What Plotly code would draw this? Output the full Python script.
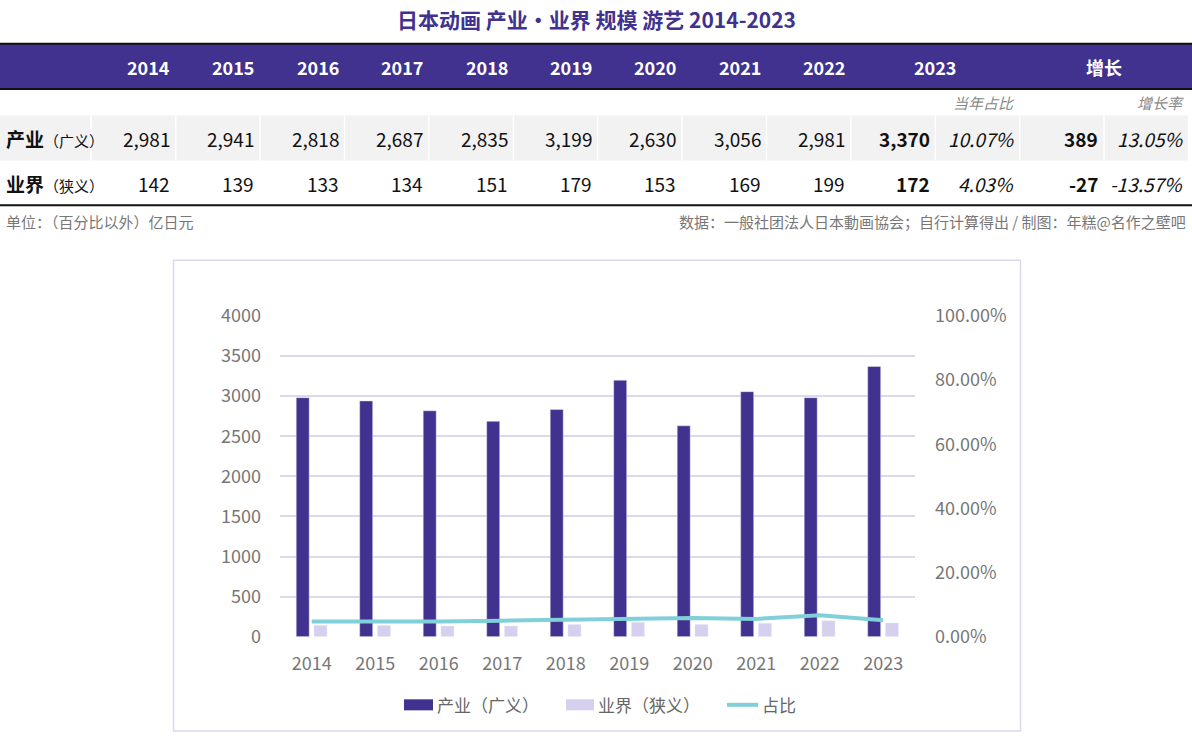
import plotly.graph_objects as go

# data
years = ["2014", "2015", "2016", "2017", "2018", "2019", "2020", "2021", "2022", "2023"]
industry = [2981, 2941, 2818, 2687, 2835, 3199, 2630, 3056, 2981, 3370]   # 产业（广义）
market = [142, 139, 133, 134, 151, 179, 153, 169, 199, 172]               # 业界（狭义）
share_pct = [4.76, 4.73, 4.72, 4.99, 5.33, 5.60, 5.82, 5.53, 6.68, 5.10]  # 占比
share_2023 = ["10.07%", "4.03%"]
growth = ["389", "-27"]
growth_rate = ["13.05%", "-13.57%"]
row_names = [("产业", "（广义）"), ("业界", "（狭义）")]

W, H = 1192, 746
PURPLE = "#40328e"
LAV = "#d6d0ee"
TEAL = "#80cfd9"
GRID = "#dcd8ee"
FONT = "Noto Sans CJK SC"


def px(x):
    return x / W


def py(y):
    # the page comes out shifted/squeezed a bit vertically, compensate
    y = (y - 15.7) / 0.963
    return 1 - y / H


fig = go.Figure()

fig.add_trace(go.Bar(x=years, y=industry, name="产业（广义）", marker_color=PURPLE,
                     width=0.205, offset=-0.245, showlegend=False))
fig.add_trace(go.Bar(x=years, y=market, name="业界（狭义）", marker_color=LAV,
                     width=0.205, offset=0.035, showlegend=False))
fig.add_trace(go.Scatter(x=years, y=share_pct, name="占比", mode="lines", yaxis="y2",
                         line=dict(color=TEAL, width=4), showlegend=False))

shapes = []
ann = []


def text(x, y, s, size=19, color="#111", anchor="right", bold=False, italic=False):
    if bold:
        s = "<b>" + s + "</b>"
    if italic:
        s = "<i>" + s + "</i>"
    ann.append(dict(x=px(x), y=py(y), xref="paper", yref="paper", text=s, showarrow=False,
                    xanchor=anchor, yanchor="middle", font=dict(family=FONT, size=size, color=color)))


# title
text(596, 20, "日本动画 产业・业界 规模 游艺 2014-2023", size=21, color=PURPLE, anchor="center", bold=True)

# header band
shapes.append(dict(type="rect", xref="paper", yref="paper", x0=0, x1=1, y0=py(90), y1=py(44),
                   fillcolor=PURPLE, line_width=0, layer="below"))
for yy in (44.5, 89.5, 205.5):
    shapes.append(dict(type="line", xref="paper", yref="paper", x0=0, x1=1, y0=py(yy), y1=py(yy),
                       line=dict(color="#111", width=2)))

col_l = [92 + i * 84.4 for i in range(13)]
col_r = [c + 83 for c in col_l]

for i, yr in enumerate(years[:-1]):
    text(col_r[i] - 3, 68, yr, size=18, color="white", bold=True)
text((col_l[9] + col_r[10]) / 2, 68, years[-1], size=18, color="white", anchor="center", bold=True)
text((col_l[11] + col_r[12]) / 2, 68, "增长", size=18, color="white", anchor="center", bold=True)

text(col_r[10] - 2, 103, "当年占比", size=15, color="#888", italic=True)
text(col_r[12] - 2, 103, "增长率", size=15, color="#888", italic=True)

# row 1 gray cells
shapes.append(dict(type="rect", xref="paper", yref="paper", x0=0, x1=px(90), y0=py(161), y1=py(116),
                   fillcolor="#f2f2f2", line_width=0, layer="below"))
for i in range(13):
    shapes.append(dict(type="rect", xref="paper", yref="paper", x0=px(col_l[i]), x1=px(col_r[i]),
                       y0=py(161), y1=py(116), fillcolor="#f2f2f2", line_width=0, layer="below"))

rows = [industry, market]
for r, yy in enumerate((138.5, 184)):
    name, sub = row_names[r]
    ann.append(dict(x=px(4), y=py(yy), xref="paper", yref="paper", showarrow=False,
                    xanchor="left", yanchor="middle",
                    text="<b>" + name + "</b><span style='font-size:15px'>" + sub + "</span>",
                    font=dict(family=FONT, size=19, color="#111")))
    vals = rows[r]
    for i in range(9):
        text(col_r[i] - 3, yy, f"{vals[i]:,}")
    text(col_r[9] - 3, yy, f"{vals[9]:,}", bold=True)
    text(col_r[10] - 3, yy, share_2023[r], italic=True)
    text(col_r[11] - 3, yy, growth[r], bold=True)
    text(col_r[12] - 3, yy, growth_rate[r], italic=True)

# footnotes
text(4, 222, "单位：（百分比以外）亿日元", size=15, color="#777", anchor="left")
text(1188, 222, "数据：一般社团法人日本動画協会；自行计算得出 / 制图：年糕@名作之壁吧", size=15, color="#777")

# chart frame
shapes.append(dict(type="rect", xref="paper", yref="paper", x0=px(173.5), x1=px(1020.5),
                   y0=py(730), y1=py(260.5), line=dict(color=GRID, width=1.5), layer="below"))

# custom legend
ly = 704
shapes.append(dict(type="rect", xref="paper", yref="paper", x0=px(404), x1=px(433), y0=py(709.5), y1=py(698.5),
                   fillcolor=PURPLE, line_width=0))
text(435, ly, "产业（广义）", size=17, color="#666", anchor="left")
shapes.append(dict(type="rect", xref="paper", yref="paper", x0=px(566), x1=px(594), y0=py(709.5), y1=py(698.5),
                   fillcolor=LAV, line_width=0))
text(596, ly, "业界（狭义）", size=17, color="#666", anchor="left")
shapes.append(dict(type="line", xref="paper", yref="paper", x0=px(727), x1=px(758), y0=py(ly), y1=py(ly),
                   line=dict(color=TEAL, width=4)))
text(760, ly, "占比", size=17, color="#666", anchor="left")

fig.update_layout(
    width=W, height=H,
    margin=dict(l=0, r=0, t=0, b=0),
    paper_bgcolor="white", plot_bgcolor="white",
    font=dict(family=FONT, color="#777"),
    shapes=shapes, annotations=ann,
    xaxis=dict(domain=[px(280), px(915)], type="category", showgrid=False, showline=False,
               ticks="", tickfont=dict(size=18, color="#777"), ticklabelstandoff=14),
    yaxis=dict(domain=[py(636), py(316)], range=[0, 4000], dtick=500, showgrid=True,
               gridcolor=GRID, gridwidth=1.5, zeroline=False, showline=False, ticks="",
               tickfont=dict(size=18, color="#777"), ticklabelstandoff=18),
    yaxis2=dict(overlaying="y", side="right", range=[0, 100], dtick=20, showgrid=False,
                zeroline=False, showline=False, ticks="", tickformat=".2f", ticksuffix="%",
                tickfont=dict(size=18, color="#777"), ticklabelstandoff=19),
)

fig.write_html("out.html", config={"displayModeBar": False},
               post_script="document.body.style.margin='0';")
